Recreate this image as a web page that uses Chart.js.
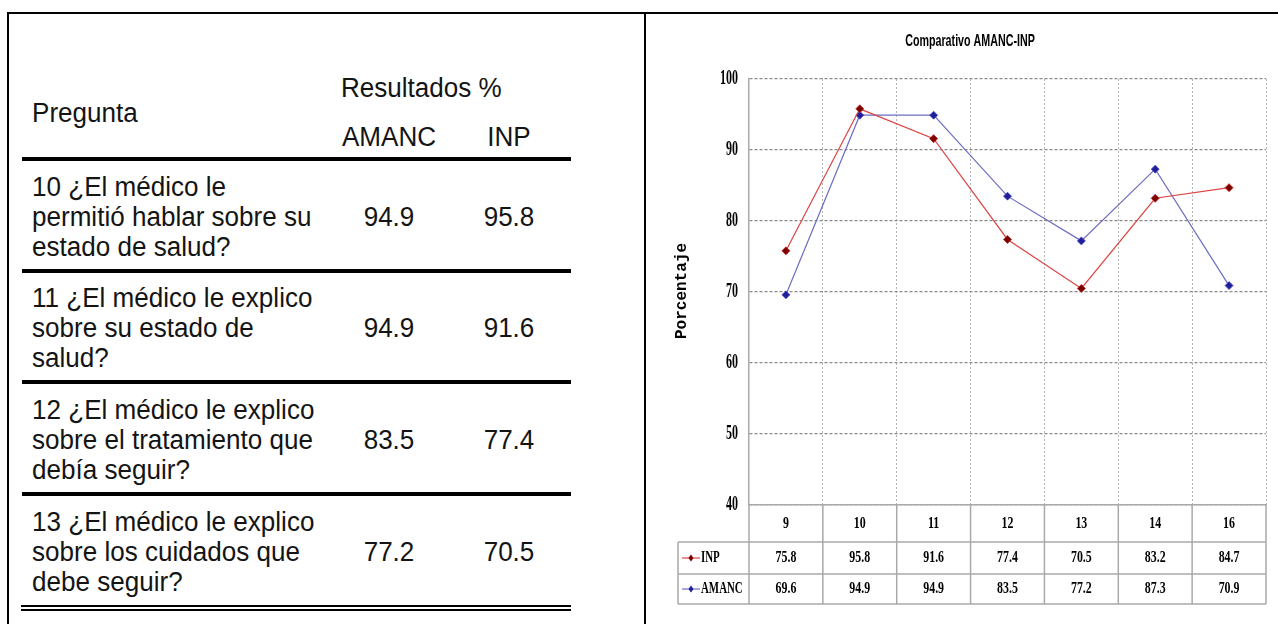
<!DOCTYPE html>
<html><head><meta charset="utf-8">
<script src="https://cdn.jsdelivr.net/npm/chart.js@4.4.0/dist/chart.umd.min.js"></script>
<style>
html,body{margin:0;padding:0;background:#fff;}
body{width:1278px;height:624px;position:relative;overflow:hidden;font-family:"Liberation Sans",Arial,sans-serif;color:#141414;}
.ln{position:absolute;background:#000;}
.t{position:absolute;font-size:27px;line-height:30px;white-space:nowrap;transform:scaleX(0.965);transform-origin:0 0;}
.v{position:absolute;font-size:27px;line-height:30px;white-space:nowrap;width:120px;text-align:center;transform:scaleX(0.965);}
#wrap{position:absolute;left:650px;top:14px;width:628px;height:610px;}
</style></head><body>
<div class="ln" style="left:7px;top:12px;width:1271px;height:2px"></div>
<div class="ln" style="left:7px;top:12px;width:2px;height:612px"></div>
<div class="ln" style="left:644px;top:12px;width:2px;height:612px"></div>
<div id="tabla"></div>
<div id="wrap"><canvas id="c" width="628" height="610"></canvas></div>
<script>
// ---- data ----
const categorias = ['9','10','11','12','13','14','16'];
const serieINP = [75.8,95.8,91.6,77.4,70.5,83.2,84.7];
const serieAMANC = [69.6,94.9,94.9,83.5,77.2,87.3,70.9];
const yTicks = [40,50,60,70,80,90,100];
const tituloGrafica = 'Comparativo AMANC-INP';
const tituloEjeY = 'Porcentaje';
const encabezados = ['Pregunta','Resultados %','AMANC','INP'];
const preguntas = [
  ['10 ¿El médico le','permitió hablar sobre su','estado de salud?'],
  ['11 ¿El médico le explico','sobre su estado de','salud?'],
  ['12 ¿El médico le explico','sobre el tratamiento que','debía seguir?'],
  ['13 ¿El médico le explico','sobre los cuidados que','debe seguir?']
];
const tablaAMANC = ['94.9','94.9','83.5','77.2'];
const tablaINP = ['95.8','91.6','77.4','70.5'];

// ---- left table ----
const tabla = document.getElementById('tabla');
function addDiv(cls, text, left, top){
  const d = document.createElement('div');
  d.className = cls; d.style.left = left+'px'; d.style.top = top+'px';
  d.innerHTML = text;
  tabla.appendChild(d); return d;
}
function addLine(left, top, w, h){
  const d = document.createElement('div'); d.className='ln';
  Object.assign(d.style,{left:left+'px',top:top+'px',width:w+'px',height:h+'px'});
  tabla.appendChild(d);
}
addDiv('t', encabezados[0], 32, 113-15);
addDiv('t', encabezados[1], 341, 88-15);
addDiv('v', encabezados[2], 389-60, 137-15);
addDiv('v', encabezados[3], 509-60, 137-15);
addLine(22, 157, 549, 4);
const rowStarts = [187, 298, 410, 522];
preguntas.forEach((lines, i) => {
  addDiv('t', lines.join('<br>'), 32, rowStarts[i]-15);
  addDiv('v', tablaAMANC[i], 389-60, rowStarts[i]+30-15);
  addDiv('v', tablaINP[i], 509-60, rowStarts[i]+30-15);
});
[269, 380, 492].forEach(y => addLine(22, y, 549, 4));
addLine(21, 605, 550, 2);
addLine(21, 609, 550, 2);

// ---- chart ----
function condensed(ctx, text, x, y, font, sx, align, color){
  ctx.save();
  ctx.font = font; ctx.fillStyle = color; ctx.textBaseline = 'middle';
  ctx.translate(x, y); ctx.scale(sx, 1);
  ctx.textAlign = align;
  ctx.fillText(text, 0, 0);
  ctx.restore();
}
const serif = '"Liberation Serif","Times New Roman",serif';
const colINP = '#dd4444', markINP = '#7a0000';
const colAM = '#6d6dc4', markAM = '#1f1f9c';

const extras = {
  id: 'extras',
  afterDraw(chart){
    const ctx = chart.ctx, a = chart.chartArea, xs = chart.scales.x, ys = chart.scales.y;
    // title
    condensed(ctx, tituloGrafica, 320, 27, 'bold 17px "Liberation Sans",Arial,sans-serif', 0.63, 'center', '#000');
    // y tick labels
    yTicks.forEach(v => {
      condensed(ctx, String(v), a.left - 11, ys.getPixelForValue(v), 'bold 20px '+serif, 0.6, 'right', '#000');
    });
    // y title
    ctx.save();
    ctx.translate(32, 277); ctx.rotate(-Math.PI/2);
    ctx.font = 'bold 16px "Liberation Mono","Courier New",monospace';
    ctx.fillStyle = '#000'; ctx.textAlign = 'center'; ctx.textBaseline = 'middle';
    ctx.fillText(tituloEjeY, 0, 0);
    ctx.restore();
    // data table
    const top = a.bottom, r1 = top + 37, r2 = r1 + 32, r3 = r2 + 30, labL = 28;
    const n = categorias.length;
    const bounds = [a.left];
    for(let i=0;i<n-1;i++) bounds.push((xs.getPixelForValue(i)+xs.getPixelForValue(i+1))/2);
    bounds.push(a.right);
    ctx.save();
    ctx.strokeStyle = '#a9a9a9'; ctx.lineWidth = 1.5;
    ctx.beginPath();
    bounds.forEach(x => { ctx.moveTo(x, top); ctx.lineTo(x, r3); });
    ctx.moveTo(labL, r1); ctx.lineTo(labL, r3);
    [r1, r2, r3].forEach(y => { ctx.moveTo(labL, y); ctx.lineTo(a.right, y); });
    ctx.stroke();
    ctx.restore();
    const f = 'bold 17px '+serif, sx = 0.7;
    categorias.forEach((c, i) => {
      const x = xs.getPixelForValue(i);
      condensed(ctx, c, x, (top+r1)/2, f, sx, 'center', '#000');
      condensed(ctx, String(serieINP[i]), x, (r1+r2)/2, f, sx, 'center', '#000');
      condensed(ctx, String(serieAMANC[i]), x, (r2+r3)/2, f, sx, 'center', '#000');
    });
    // row labels with legend samples
    [[ 'INP', colINP, markINP, (r1+r2)/2 ], [ 'AMANC', colAM, markAM, (r2+r3)/2 ]].forEach(([lab, lc, mc, y]) => {
      ctx.save();
      ctx.strokeStyle = lc; ctx.lineWidth = 1.2;
      ctx.beginPath(); ctx.moveTo(32, y); ctx.lineTo(50, y); ctx.stroke();
      ctx.fillStyle = mc;
      ctx.beginPath(); ctx.moveTo(41, y-3.5); ctx.lineTo(43.5, y); ctx.lineTo(41, y+3.5); ctx.lineTo(38.5, y); ctx.closePath(); ctx.fill();
      ctx.restore();
      condensed(ctx, lab, 51, y, f, 0.64, 'left', '#000');
    });
  }
};

new Chart(document.getElementById('c'), {
  type: 'line',
  data: {
    labels: categorias,
    datasets: [
      { label: 'INP', data: serieINP, borderColor: colINP, borderWidth: 1.2, backgroundColor: markINP,
        pointStyle: 'rectRot', pointRadius: 4, pointBorderColor: '#c02020', pointBorderWidth: 0.8, pointBackgroundColor: markINP, tension: 0 },
      { label: 'AMANC', data: serieAMANC, borderColor: colAM, borderWidth: 1.2, backgroundColor: markAM,
        pointStyle: 'rectRot', pointRadius: 4, pointBorderColor: '#4a4ac0', pointBorderWidth: 0.8, pointBackgroundColor: markAM, tension: 0 }
    ]
  },
  options: {
    responsive: false, animation: false, devicePixelRatio: 1,
    layout: { padding: { left: 99, right: 12, top: 65, bottom: 119 } },
    plugins: { legend: { display: false }, tooltip: { enabled: false }, title: { display: false } },
    scales: {
      x: { type: 'category', offset: true,
        grid: { offset: true, color: '#b4b4b4', lineWidth: 1, drawTicks: false },
        border: { display: true, color: '#a9a9a9', width: 1.5, dash: [2, 2] },
        ticks: { display: false }, afterFit(s){ s.height = 0; } },
      y: { min: 40, max: 100,
        ticks: { display: false, stepSize: 10 },
        grid: { color: '#8a8a8a', lineWidth: 1.3, drawTicks: false },
        border: { display: true, color: '#a9a9a9', width: 1.5, dash: [3, 2] },
        afterFit(s){ s.width = 0; } }
    }
  },
  plugins: [extras]
});
</script>
</body></html>
